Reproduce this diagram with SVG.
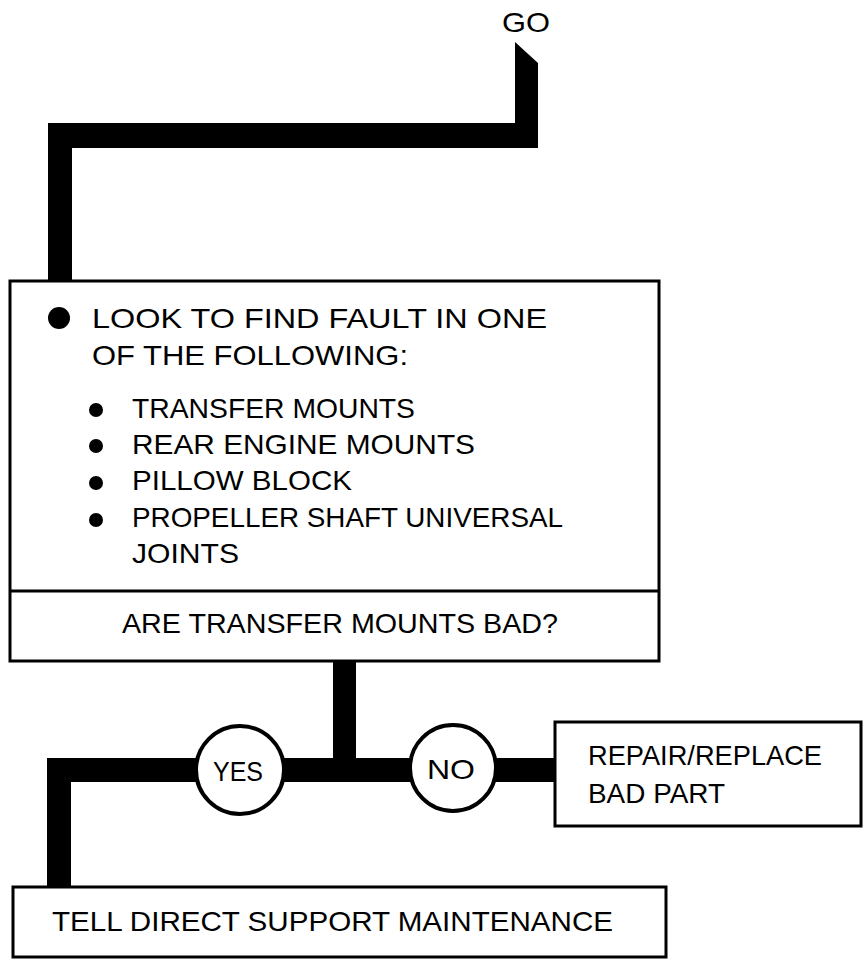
<svg xmlns="http://www.w3.org/2000/svg" width="866" height="960" viewBox="0 0 866 960">
<style>
.box{fill:#fff;stroke:#000;stroke-width:3}
.ring{fill:#fff;stroke:#000;stroke-width:4}
.t{font-family:"Liberation Sans",Arial,sans-serif;fill:#000;font-size:28px}
.bar{fill:#000}
</style>
<rect width="866" height="960" fill="#fff"/>
<g id="connectors">
<polygon class="bar" points="515,42 538,63 538,148 72,148 72,282 48,282 48,123 515,123"/>
<rect class="bar" x="333" y="660" width="23" height="100"/>
<polygon class="bar" points="47,758 556,758 556,782 71,782 71,888 47,888"/>
</g>
<g id="go"><text class="t" x="502" y="32" textLength="48" lengthAdjust="spacingAndGlyphs">GO</text></g>
<g id="look">
<rect class="box" x="10" y="281" width="649" height="380"/>
<line x1="10" y1="591" x2="659" y2="591" stroke="#000" stroke-width="3"/>
<circle cx="59" cy="318" r="11"/>
<text class="t" x="92" y="328" textLength="455" lengthAdjust="spacingAndGlyphs">LOOK TO FIND FAULT IN ONE</text>
<text class="t" x="92" y="365" textLength="316" lengthAdjust="spacingAndGlyphs">OF THE FOLLOWING:</text>
<circle cx="96" cy="410" r="7"/>
<circle cx="96" cy="446" r="7"/>
<circle cx="96" cy="483" r="7"/>
<circle cx="96" cy="520" r="7"/>
<text class="t" x="132" y="418" textLength="283" lengthAdjust="spacingAndGlyphs">TRANSFER MOUNTS</text>
<text class="t" x="132" y="454" textLength="343" lengthAdjust="spacingAndGlyphs">REAR ENGINE MOUNTS</text>
<text class="t" x="132" y="490" textLength="220" lengthAdjust="spacingAndGlyphs">PILLOW BLOCK</text>
<text class="t" x="132" y="527" textLength="431" lengthAdjust="spacingAndGlyphs">PROPELLER SHAFT UNIVERSAL</text>
<text class="t" x="132" y="563" textLength="107" lengthAdjust="spacingAndGlyphs">JOINTS</text>
<text class="t" x="122" y="633" textLength="436" lengthAdjust="spacingAndGlyphs">ARE TRANSFER MOUNTS BAD?</text>
</g>
<g id="yes"><circle class="ring" cx="240" cy="770" r="44"/><text class="t" x="213" y="781" textLength="50" lengthAdjust="spacingAndGlyphs">YES</text></g>
<g id="no"><circle class="ring" cx="453" cy="768" r="43"/><text class="t" x="427" y="779" textLength="48" lengthAdjust="spacingAndGlyphs">NO</text></g>
<g id="repair">
<rect class="box" x="555" y="722" width="306" height="104"/>
<text class="t" x="588" y="765" textLength="234" lengthAdjust="spacingAndGlyphs">REPAIR/REPLACE</text>
<text class="t" x="588" y="803" textLength="137" lengthAdjust="spacingAndGlyphs">BAD PART</text>
</g>
<g id="tell">
<rect class="box" x="13" y="887" width="653" height="70"/>
<text class="t" x="52" y="931" textLength="561" lengthAdjust="spacingAndGlyphs">TELL DIRECT SUPPORT MAINTENANCE</text>
</g>
</svg>
